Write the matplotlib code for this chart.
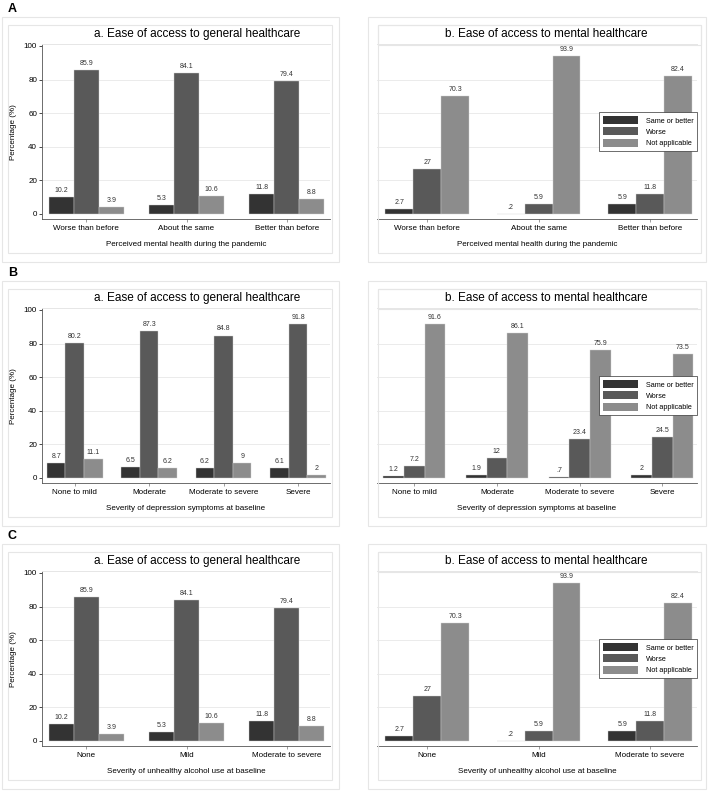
import matplotlib
matplotlib.use('Agg')
import matplotlib.pyplot as plt
from matplotlib.patches import Rectangle, Patch
import numpy as np

plt.rcParams['font.family'] = ['Liberation Sans', 'DejaVu Sans']

# 데이터
series_names = ['Same or better', 'Worse', 'Not applicable']
colors = ['#333333', '#595959', '#8c8c8c']

cats_a = ['Worse than before', 'About the same', 'Better than before']
gen_a_same = [10.2, 5.3, 11.8]
gen_a_worse = [85.9, 84.1, 79.4]
gen_a_na = [3.9, 10.6, 8.8]
men_a_same = [2.7, 0.2, 5.9]
men_a_worse = [27, 5.9, 11.8]
men_a_na = [70.3, 93.9, 82.4]

cats_b = ['None to mild', 'Moderate', 'Moderate to severe', 'Severe']
gen_b_same = [8.7, 6.5, 6.2, 6.1]
gen_b_worse = [80.2, 87.3, 84.8, 91.8]
gen_b_na = [11.1, 6.2, 9, 2]
men_b_same = [1.2, 1.9, 0.7, 2]
men_b_worse = [7.2, 12, 23.4, 24.5]
men_b_na = [91.6, 86.1, 75.9, 73.5]

cats_c = ['None', 'Mild', 'Moderate to severe']
gen_c_same = [10.2, 5.3, 11.8]
gen_c_worse = [85.9, 84.1, 79.4]
gen_c_na = [3.9, 10.6, 8.8]
men_c_same = [2.7, 0.2, 5.9]
men_c_worse = [27, 5.9, 11.8]
men_c_na = [70.3, 93.9, 82.4]

xlabels = ['Perceived mental health during the pandemic',
           'Severity of depression symptoms at baseline',
           'Severity of unhealthy alcohol use at baseline']

W, H = 708, 791
fig = plt.figure(figsize=(W / 100, H / 100), dpi=100)
fig.patch.set_facecolor('white')

BOX = '#e6e6e6'


def px_rect(x0, y0, x1, y1, color=BOX, lw=0.8):
    fig.patches.append(Rectangle((x0 / W, 1 - y1 / H), (x1 - x0) / W, (y1 - y0) / H,
                                 transform=fig.transFigure, fill=False,
                                 edgecolor=color, linewidth=lw))


def px_axes(x0, y0, x1, y1):
    return fig.add_axes([x0 / W, 1 - y1 / H, (x1 - x0) / W, (y1 - y0) / H])


def fmt(v):
    # stata 식 숫자 표시 (.2, 27)
    s = ('%g' % v)
    if s.startswith('0.'):
        s = s[1:]
    return s


def draw_panel(ax, cats, vals, title, xlabel, left=True, legend=False):
    n = len(cats)
    x = np.arange(n)
    w = 0.25
    for i, v in enumerate(vals):
        pos = x + (i - 1) * w
        ax.bar(pos, v, width=w, color=colors[i], edgecolor='#d0d0d0', linewidth=0.3,
               label=series_names[i], zorder=3)
        for p, val in zip(pos, v):
            ax.text(p, val + 1.8, fmt(val), ha='center', va='bottom', fontsize=5.0,
                    color='#333333', zorder=4)
    ax.set_ylim(-3, 101)
    if left:
        ax.set_xlim(-0.44, n - 1 + 0.43)
    else:
        ax.set_xlim(-0.45, n - 1 + 0.42)
    for g in [20, 40, 60, 80]:
        ax.axhline(g, color='#ebebeb', linewidth=0.7, zorder=1)
    ax.set_xticks(x)
    ax.set_xticklabels(cats, fontsize=5.8)
    ax.tick_params(axis='x', length=2.5, width=0.5, color='#777777', pad=2)
    ax.set_xlabel(xlabel, fontsize=5.8, labelpad=6)
    ax.spines['bottom'].set_color('#555555')
    ax.spines['bottom'].set_linewidth(0.6)
    ax.spines['top'].set_color(BOX)
    ax.spines['top'].set_linewidth(0.7)
    ax.spines['right'].set_visible(False)
    if left:
        ax.spines['left'].set_color('#555555')
        ax.spines['left'].set_linewidth(0.6)
        ax.set_yticks([0, 20, 40, 60, 80, 100])
        ax.tick_params(axis='y', labelsize=5.8, length=2.5, width=0.5, pad=1)
        ax.set_ylabel('Percentage (%)', fontsize=5.8, labelpad=5)
        ax.set_title(title, fontsize=8.5, pad=5, x=0.54)
    else:
        ax.spines['left'].set_visible(False)
        ax.set_yticks([])
        ax.set_title(title, fontsize=8.5, pad=5, x=0.53)
    if legend:
        handles = [Patch(facecolor=c, edgecolor='none') for c in colors]
        ax.legend(handles, series_names, loc='center right', bbox_to_anchor=(1.012, 0.50),
                  fontsize=5.2, frameon=True, fancybox=False, edgecolor='#333333',
                  framealpha=1, handlelength=4.9, handleheight=1.3, borderpad=0.55,
                  labelspacing=0.4, handletextpad=1.0)
        ax.get_legend().get_frame().set_linewidth(0.5)


rows = [
    (cats_a, [gen_a_same, gen_a_worse, gen_a_na], [men_a_same, men_a_worse, men_a_na], 'A', 0),
    (cats_b, [gen_b_same, gen_b_worse, gen_b_na], [men_b_same, men_b_worse, men_b_na], 'B', 264),
    (cats_c, [gen_c_same, gen_c_worse, gen_c_na], [men_c_same, men_c_worse, men_c_na], 'C', 527),
]

for cats, gen, men, letter, dy in rows:
    # 패널 테두리
    px_rect(2, 17 + dy, 339, 262 + dy)
    px_rect(8, 25 + dy, 332, 253 + dy)
    px_rect(368, 17 + dy, 706, 262 + dy)
    px_rect(378, 25 + dy, 701, 253 + dy)
    px_rect(378, 25 + dy, 701, 45 + dy)
    fig.text(8 / W, 1 - (9 + dy) / H, letter, fontsize=9, fontweight='bold',
             ha='left', va='center')

    ax1 = px_axes(42, 44.3 + dy, 330, 219 + dy)
    draw_panel(ax1, cats, gen, 'a. Ease of access to general healthcare',
               xlabels[['A', 'B', 'C'].index(letter)], left=True)
    ax2 = px_axes(377, 44.3 + dy, 697, 219 + dy)
    draw_panel(ax2, cats, men, 'b. Ease of access to mental healthcare',
               xlabels[['A', 'B', 'C'].index(letter)], left=False, legend=True)

plt.savefig('out.png', dpi=100)
